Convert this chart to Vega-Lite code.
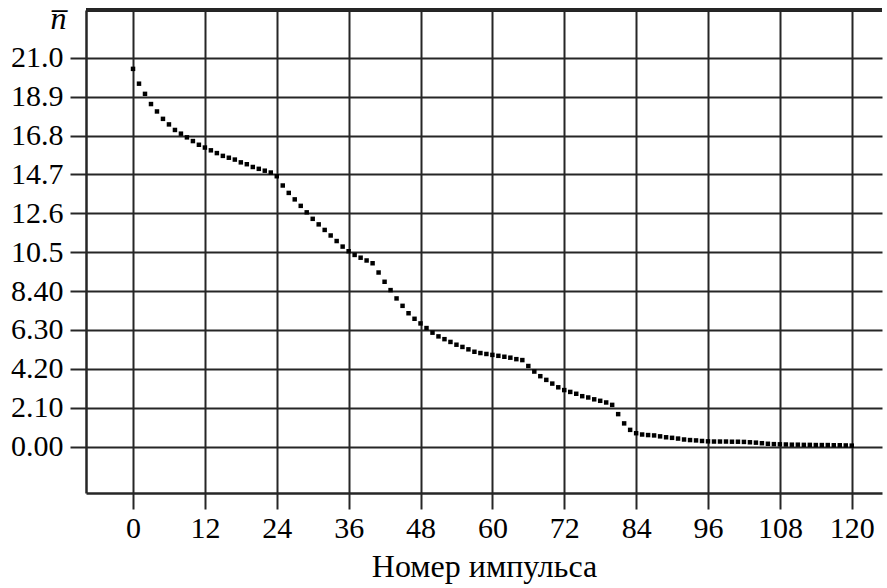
{
  "$schema": "https://vega.github.io/schema/vega-lite/v6.json",
  "autosize": "none",
  "width": 796,
  "height": 483,
  "padding": {"left": 86, "top": 10, "right": 5, "bottom": 95},
  "background": "white",
  "config": {
    "font": "Times New Roman, Liberation Serif, serif",
    "view": {"stroke": null},
    "axis": {
      "labelFont": "Times New Roman, Liberation Serif, serif",
      "titleFont": "Times New Roman, Liberation Serif, serif",
      "labelFontSize": 30,
      "titleFontSize": 32,
      "labelColor": "black",
      "titleColor": "black",
      "titleFontWeight": "normal",
      "gridColor": "#262626",
      "gridWidth": 2,
      "gridOpacity": 1,
      "tickColor": "#262626",
      "tickWidth": 2,
      "tickSize": 16,
      "domainColor": "#262626",
      "domainWidth": 2.5
    }
  },
  "data": {
    "values": [
      {"i": 0, "n": 20.4}, {"i": 1, "n": 19.6}, {"i": 2, "n": 19.05}, {"i": 3, "n": 18.5},
      {"i": 4, "n": 18.1}, {"i": 5, "n": 17.7}, {"i": 6, "n": 17.4}, {"i": 7, "n": 17.1},
      {"i": 8, "n": 16.9}, {"i": 9, "n": 16.7}, {"i": 10, "n": 16.5}, {"i": 11, "n": 16.3},
      {"i": 12, "n": 16.15}, {"i": 13, "n": 16.0}, {"i": 14, "n": 15.85}, {"i": 15, "n": 15.7},
      {"i": 16, "n": 15.6}, {"i": 17, "n": 15.5}, {"i": 18, "n": 15.35}, {"i": 19, "n": 15.25},
      {"i": 20, "n": 15.1}, {"i": 21, "n": 15.0}, {"i": 22, "n": 14.9}, {"i": 23, "n": 14.8},
      {"i": 24, "n": 14.6}, {"i": 25, "n": 14.1}, {"i": 26, "n": 13.7}, {"i": 27, "n": 13.35},
      {"i": 28, "n": 13.0}, {"i": 29, "n": 12.65}, {"i": 30, "n": 12.3}, {"i": 31, "n": 12.0},
      {"i": 32, "n": 11.7}, {"i": 33, "n": 11.4}, {"i": 34, "n": 11.1}, {"i": 35, "n": 10.8},
      {"i": 36, "n": 10.55}, {"i": 37, "n": 10.35}, {"i": 38, "n": 10.2}, {"i": 39, "n": 10.05},
      {"i": 40, "n": 9.9}, {"i": 41, "n": 9.4}, {"i": 42, "n": 8.9}, {"i": 43, "n": 8.45},
      {"i": 44, "n": 8.0}, {"i": 45, "n": 7.6}, {"i": 46, "n": 7.2}, {"i": 47, "n": 6.9},
      {"i": 48, "n": 6.65}, {"i": 49, "n": 6.4}, {"i": 50, "n": 6.15}, {"i": 51, "n": 5.95},
      {"i": 52, "n": 5.8}, {"i": 53, "n": 5.65}, {"i": 54, "n": 5.5}, {"i": 55, "n": 5.38},
      {"i": 56, "n": 5.25}, {"i": 57, "n": 5.12}, {"i": 58, "n": 5.05}, {"i": 59, "n": 5.0},
      {"i": 60, "n": 4.95}, {"i": 61, "n": 4.9}, {"i": 62, "n": 4.85}, {"i": 63, "n": 4.8},
      {"i": 64, "n": 4.72}, {"i": 65, "n": 4.67}, {"i": 66, "n": 4.35}, {"i": 67, "n": 4.05},
      {"i": 68, "n": 3.8}, {"i": 69, "n": 3.6}, {"i": 70, "n": 3.4}, {"i": 71, "n": 3.2},
      {"i": 72, "n": 3.05}, {"i": 73, "n": 2.95}, {"i": 74, "n": 2.85}, {"i": 75, "n": 2.72},
      {"i": 76, "n": 2.65}, {"i": 77, "n": 2.55}, {"i": 78, "n": 2.47}, {"i": 79, "n": 2.38},
      {"i": 80, "n": 2.25}, {"i": 81, "n": 1.75}, {"i": 82, "n": 1.25}, {"i": 83, "n": 0.9},
      {"i": 84, "n": 0.72}, {"i": 85, "n": 0.65}, {"i": 86, "n": 0.62}, {"i": 87, "n": 0.6},
      {"i": 88, "n": 0.55}, {"i": 89, "n": 0.5}, {"i": 90, "n": 0.47}, {"i": 91, "n": 0.43},
      {"i": 92, "n": 0.38}, {"i": 93, "n": 0.35}, {"i": 94, "n": 0.33}, {"i": 95, "n": 0.3},
      {"i": 96, "n": 0.28}, {"i": 97, "n": 0.27}, {"i": 98, "n": 0.27}, {"i": 99, "n": 0.27},
      {"i": 100, "n": 0.26}, {"i": 101, "n": 0.26}, {"i": 102, "n": 0.25}, {"i": 103, "n": 0.23},
      {"i": 104, "n": 0.21}, {"i": 105, "n": 0.18}, {"i": 106, "n": 0.15}, {"i": 107, "n": 0.13},
      {"i": 108, "n": 0.12}, {"i": 109, "n": 0.11}, {"i": 110, "n": 0.1}, {"i": 111, "n": 0.1},
      {"i": 112, "n": 0.09}, {"i": 113, "n": 0.09}, {"i": 114, "n": 0.08}, {"i": 115, "n": 0.08},
      {"i": 116, "n": 0.08}, {"i": 117, "n": 0.07}, {"i": 118, "n": 0.07}, {"i": 119, "n": 0.06},
      {"i": 120, "n": 0.05}
    ]
  },
  "layer": [
    {
      "mark": {"type": "rule", "color": "#262626", "strokeWidth": 2.5},
      "encoding": {"y": {"datum": 23.58, "type": "quantitative", "scale": {"domain": [-2.51, 23.58], "nice": false, "zero": false}}}
    },
    {
      "mark": {"type": "point", "shape": "square", "filled": true, "color": "black", "size": 20, "opacity": 1},
      "encoding": {
        "x": {
          "field": "i", "type": "quantitative",
          "scale": {"domain": [-7.85, 125.05], "nice": false, "zero": false},
          "axis": {
            "values": [0, 12, 24, 36, 48, 60, 72, 84, 96, 108, 120],
            "grid": true,
            "format": "d",
            "labelPadding": 4,
            "title": "Номер импульса",
            "titlePadding": 8
          }
        },
        "y": {
          "field": "n", "type": "quantitative",
          "scale": {"domain": [-2.51, 23.58], "nice": false, "zero": false},
          "axis": {
            "values": [0, 2.1, 4.2, 6.3, 8.4, 10.5, 12.6, 14.7, 16.8, 18.9, 21.0],
            "grid": true,
            "format": ".3g",
            "labelPadding": 7,
            "title": "n\u0305",
            "titleAngle": 0,
            "titleFontStyle": "italic",
            "titleFontSize": 32,
            "titleX": -28,
            "titleY": 8,
            "titleAlign": "center",
            "titleBaseline": "middle"
          }
        }
      }
    }
  ]
}
